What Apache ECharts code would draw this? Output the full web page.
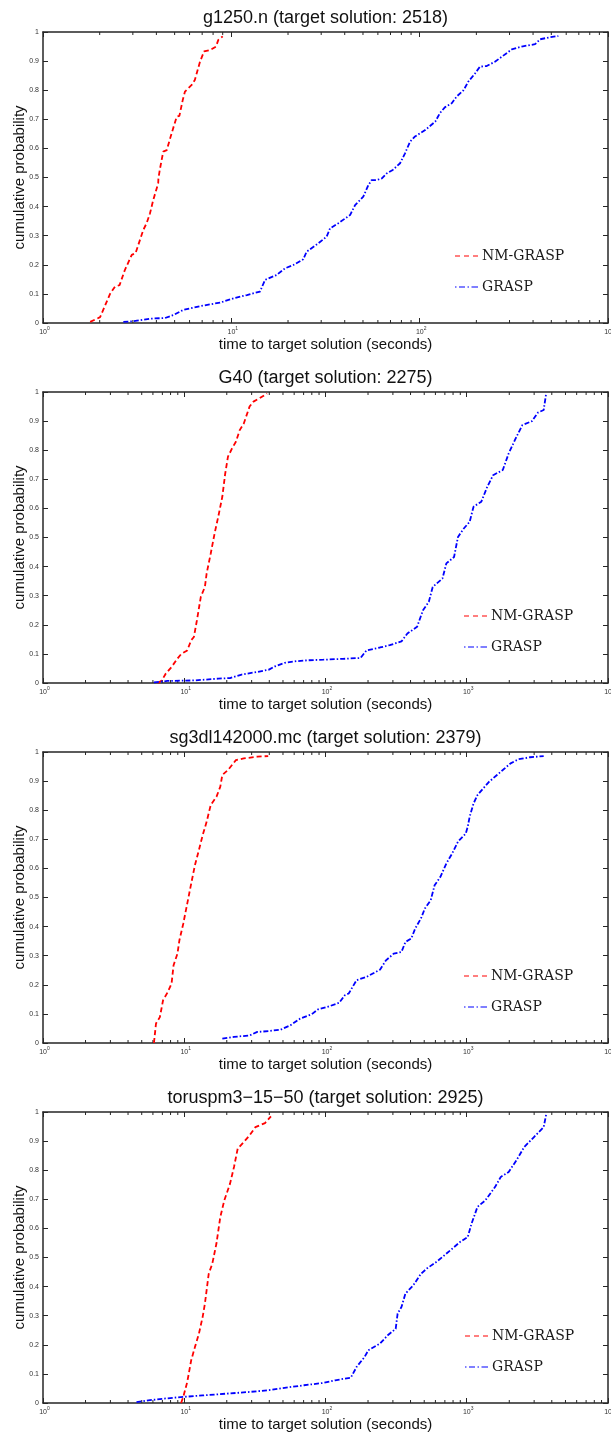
<!DOCTYPE html>
<html>
<head>
<meta charset="utf-8">
<script src="https://cdn.jsdelivr.net/npm/echarts@6/dist/echarts.min.js"></script>
<style>
  html, body { margin: 0; padding: 0; background: #fff; }
  #main { width: 611px; height: 1437px; }
</style>
</head>
<body>
<div id="main"></div>
<script>
// ---- data: [time (s), cumulative probability] ----
var nm_g1250 = [[1.78,0.004],[2.01,0.02],[2.27,0.10],[2.41,0.125],[2.55,0.13],[2.72,0.182],[2.96,0.234],[3.1,0.24],[3.41,0.32],[3.55,0.343],[3.70,0.377],[3.85,0.423],[4.09,0.48],[4.10,0.497],[4.18,0.53],[4.35,0.589],[4.54,0.594],[4.82,0.652],[5.13,0.709],[5.3,0.712],[5.52,0.766],[5.67,0.795],[6.16,0.818],[6.4,0.835],[6.82,0.898],[7.16,0.933],[7.70,0.938],[8.29,0.95],[8.53,0.973],[9.0,0.985]];
var grasp_g1250 = [[2.67,0.004],[3.02,0.006],[3.70,0.015],[4.44,0.017],[4.92,0.027],[5.56,0.045],[6.82,0.058],[8.71,0.07],[10.3,0.085],[12.1,0.096],[14.2,0.108],[15.1,0.148],[17.4,0.165],[19.3,0.188],[21.3,0.199],[24.1,0.219],[25.1,0.245],[29,0.274],[32.1,0.297],[33.4,0.325],[37,0.343],[42.7,0.371],[45.4,0.405],[50.2,0.434],[53.4,0.474],[55.6,0.491],[59.1,0.491],[63,0.497],[66.8,0.514],[72,0.526],[78.7,0.549],[83.6,0.583],[88.9,0.623],[94.5,0.641],[107,0.663],[121,0.692],[128,0.721],[136,0.741],[148,0.755],[157,0.778],[171,0.80],[181,0.829],[197,0.858],[209,0.881],[227,0.883],[251,0.898],[273,0.915],[308,0.94],[348,0.95],[410,0.958],[436,0.975],[492,0.982],[545,0.986]];

var nm_g40 = [[6.5,0.0],[6.94,0.009],[7.39,0.032],[8.13,0.055],[8.95,0.084],[9.53,0.10],[10.5,0.112],[11.2,0.147],[11.7,0.158],[12.3,0.216],[13.1,0.296],[14.0,0.33],[14.4,0.376],[15.4,0.445],[16.4,0.514],[17.4,0.571],[18.6,0.64],[19.5,0.72],[20.4,0.778],[21.8,0.806],[23.2,0.829],[24.7,0.869],[26.4,0.892],[29,0.95],[30.9,0.967],[34,0.978],[38.6,0.995]];
var grasp_g40 = [[6.1,0.002],[7.6,0.007],[11.9,0.009],[17.4,0.015],[21.1,0.017],[25.5,0.029],[32.9,0.038],[39.8,0.046],[43.8,0.057],[51.3,0.069],[62.1,0.075],[75.1,0.078],[96.8,0.08],[133,0.083],[177,0.086],[195,0.112],[243,0.122],[285,0.13],[345,0.143],[380,0.17],[445,0.193],[490,0.25],[539,0.279],[574,0.33],[673,0.359],[717,0.411],[813,0.433],[867,0.502],[953,0.531],[1049,0.554],[1117,0.606],[1268,0.623],[1396,0.674],[1536,0.714],[1799,0.732],[1981,0.789],[2249,0.846],[2473,0.886],[2898,0.90],[3186,0.929],[3505,0.938],[3620,0.984],[3650,0.995]];

var nm_sg3dl = [[6.1,0.0],[6.31,0.067],[6.72,0.089],[7.08,0.147],[7.64,0.175],[8.13,0.204],[8.4,0.267],[8.95,0.307],[9.24,0.353],[9.84,0.41],[10.5,0.479],[11.2,0.548],[11.9,0.611],[12.7,0.663],[13.5,0.714],[14.4,0.76],[15.4,0.818],[16.9,0.846],[18.0,0.881],[18.6,0.921],[20.4,0.938],[23.2,0.972],[26.4,0.978],[32.9,0.984],[39.3,0.986]];
var grasp_sg3dl = [[18.6,0.015],[22.5,0.021],[29,0.026],[32.9,0.038],[39.8,0.041],[48.2,0.046],[56.5,0.061],[66.2,0.084],[80,0.099],[88,0.115],[103,0.124],[125,0.138],[137,0.164],[146,0.17],[166,0.216],[195,0.227],[243,0.252],[268,0.284],[304,0.307],[345,0.313],[368,0.347],[405,0.359],[431,0.393],[474,0.428],[505,0.462],[556,0.491],[592,0.542],[651,0.571],[717,0.617],[788,0.651],[867,0.692],[984,0.72],[1016,0.743],[1049,0.778],[1117,0.823],[1191,0.852],[1309,0.875],[1442,0.898],[1637,0.921],[1799,0.938],[2043,0.961],[2323,0.975],[2806,0.982],[3505,0.986]];

var nm_torus = [[9.5,0.0],[9.84,0.021],[10.5,0.072],[11.2,0.147],[11.9,0.192],[12.7,0.238],[13.5,0.296],[14.0,0.341],[14.9,0.444],[15.8,0.479],[16.9,0.548],[18.0,0.639],[19.2,0.696],[21.1,0.754],[22.5,0.811],[23.9,0.874],[26.4,0.897],[29,0.92],[31.9,0.948],[37.3,0.962],[41.1,0.985]];
var grasp_torus = [[4.59,0.003],[5.56,0.009],[7.16,0.015],[9.84,0.021],[13.5,0.026],[19.8,0.032],[29,0.038],[39.8,0.044],[51.3,0.052],[70.5,0.061],[96.8,0.069],[117,0.078],[151,0.087],[166,0.124],[189,0.158],[201,0.181],[243,0.204],[276,0.233],[314,0.255],[324,0.307],[345,0.33],[368,0.376],[418,0.404],[474,0.444],[521,0.462],[611,0.485],[673,0.502],[788,0.53],[895,0.553],[1016,0.57],[1081,0.616],[1191,0.674],[1352,0.696],[1585,0.742],[1742,0.777],[1981,0.794],[2249,0.834],[2553,0.88],[2992,0.914],[3505,0.948],[3620,0.983],[3660,0.994]];

var titles = ['g1250.n (target solution: 2518)', 'G40 (target solution: 2275)', 'sg3dl142000.mc (target solution: 2379)', 'toruspm3\u221215\u221250 (target solution: 2925)'];
var seriesNames = ['NM-GRASP', 'GRASP'];
var xMaxes = [1000, 10000, 10000, 10000];
var minorTicks3 = [2,3,4,5,6,7,8,9,20,30,40,50,60,70,80,90,200,300,400,500,600,700,800,900];
var minorTicks4 = minorTicks3.concat([2000,3000,4000,5000,6000,7000,8000,9000]);

var panels = [
    {nm: nm_g1250, grasp: grasp_g1250, minor: minorTicks3, legendLeft: 455},
    {nm: nm_g40, grasp: grasp_g40, minor: minorTicks4, legendLeft: 464},
    {nm: nm_sg3dl, grasp: grasp_sg3dl, minor: minorTicks4, legendLeft: 464},
    {nm: nm_torus, grasp: grasp_torus, minor: minorTicks4, legendLeft: 465}
];

var FRAME = '#262626';
var SANS = 'Liberation Sans, Arial, sans-serif';

var chart = echarts.init(document.getElementById('main'));

var option = {
    animation: false,
    backgroundColor: '#ffffff',
    title: [], grid: [], xAxis: [], yAxis: [], legend: [], series: []
};

panels.forEach(function (p, i) {
    var top = 32 + 360 * i;
    option.title.push({
        text: titles[i], left: 325.5, top: top - 23, textAlign: 'center', padding: 0,
        textStyle: {fontFamily: SANS, fontSize: 18, fontWeight: 'normal', color: '#111'}
    });
    option.grid.push({left: 43, right: 3, top: top, height: 291, outerBoundsMode: 'none', containLabel: false});

    // bottom x axis with labels 10^n
    option.xAxis.push({
        type: 'log', logBase: 10, gridIndex: i, min: 1, max: xMaxes[i], position: 'bottom',
        name: 'time to target solution (seconds)', nameLocation: 'middle', nameGap: 13,
        nameTextStyle: {fontFamily: SANS, fontSize: 15, color: '#111', verticalAlign: 'top'},
        axisLine: {onZero: false, lineStyle: {color: FRAME, width: 1.5}},
        axisTick: {inside: true, length: 5, lineStyle: {color: FRAME, width: 1}},
        splitLine: {show: false},
        axisLabel: {
            margin: 3, color: '#333', hideOverlap: false,
            formatter: function (v) { return '{sp|}{b|10}{s|' + Math.round(Math.log10(v)) + '}'; },
            rich: {
                sp: {width: 3, fontSize: 5},
                b: {fontFamily: SANS, fontSize: 7, color: '#333', lineHeight: 10, verticalAlign: 'bottom'},
                s: {fontFamily: SANS, fontSize: 5, color: '#333', lineHeight: 10, verticalAlign: 'top'}
            }
        }
    });
    // top x axis (ticks only)
    option.xAxis.push({
        type: 'log', logBase: 10, gridIndex: i, min: 1, max: xMaxes[i], position: 'top',
        axisLine: {onZero: false, lineStyle: {color: FRAME, width: 1.5}},
        axisTick: {inside: true, length: 5, lineStyle: {color: FRAME, width: 1}},
        axisLabel: {show: false}, splitLine: {show: false}
    });
    option.yAxis.push({
        type: 'value', gridIndex: i, min: 0, max: 1, interval: 0.1, position: 'left',
        name: 'cumulative probability', nameLocation: 'middle', nameGap: 16, nameMoveOverlap: false,
        nameTextStyle: {fontFamily: SANS, fontSize: 15, color: '#111'},
        axisLine: {onZero: false, lineStyle: {color: FRAME, width: 1.5}},
        axisTick: {inside: true, length: 5, lineStyle: {color: FRAME, width: 1}},
        axisLabel: {margin: 4, fontFamily: SANS, fontSize: 7, color: '#333'},
        splitLine: {show: false}
    });
    option.yAxis.push({
        type: 'value', gridIndex: i, min: 0, max: 1, interval: 0.1, position: 'right',
        axisLine: {onZero: false, lineStyle: {color: FRAME, width: 1.5}},
        axisTick: {inside: true, length: 5, lineStyle: {color: FRAME, width: 1}},
        axisLabel: {show: false}, splitLine: {show: false}
    });

    option.legend.push({
        data: [
            {name: seriesNames[0], icon: 'path://M0,0h5v1h-5zM9,0h5v1h-5zM18,0h5v1h-5z'},
            {name: seriesNames[1], icon: 'path://M0,0h1.5v1h-1.5zM4,0h6v1h-6zM12.5,0h1.5v1h-1.5zM16.5,0h6.5v1h-6.5z'}
        ],
        orient: 'vertical', left: p.legendLeft, top: top + 291 - 74, padding: 0,
        itemWidth: 23, itemHeight: 2, itemGap: 17, selectedMode: false,
        textStyle: {fontFamily: 'DejaVu Serif, Liberation Serif, serif', fontSize: 14, color: '#1a1a1a', padding: [0, 0, 0, -1]}
    });

    option.series.push({
        name: seriesNames[0], type: 'line', xAxisIndex: 2 * i, yAxisIndex: 2 * i,
        data: p.nm, showSymbol: false, symbol: 'none', color: '#ff0000',
        lineStyle: {color: '#ff0000', width: 1.8, type: [5, 3]}
    });
    option.series.push({
        name: seriesNames[1], type: 'line', xAxisIndex: 2 * i, yAxisIndex: 2 * i,
        data: p.grasp, showSymbol: false, symbol: 'none', color: '#0000ff',
        lineStyle: {color: '#0000ff', width: 1.8, type: [5, 2, 1.5, 2]}
    });
    // minor log ticks on top and bottom edges
    option.series.push({
        type: 'custom', xAxisIndex: 2 * i, yAxisIndex: 2 * i, silent: true, z: 3,
        data: p.minor.map(function (v) { return [v, 0]; }),
        renderItem: function (params, api) {
            var v = api.value(0);
            var b = api.coord([v, 0]);
            var t = api.coord([v, 1]);
            return {
                type: 'group',
                children: [
                    {type: 'line', shape: {x1: b[0], y1: b[1], x2: b[0], y2: b[1] - 3}, style: {stroke: FRAME, lineWidth: 1}},
                    {type: 'line', shape: {x1: t[0], y1: t[1], x2: t[0], y2: t[1] + 3}, style: {stroke: FRAME, lineWidth: 1}}
                ]
            };
        }
    });
});

chart.setOption(option);
</script>
</body>
</html>
